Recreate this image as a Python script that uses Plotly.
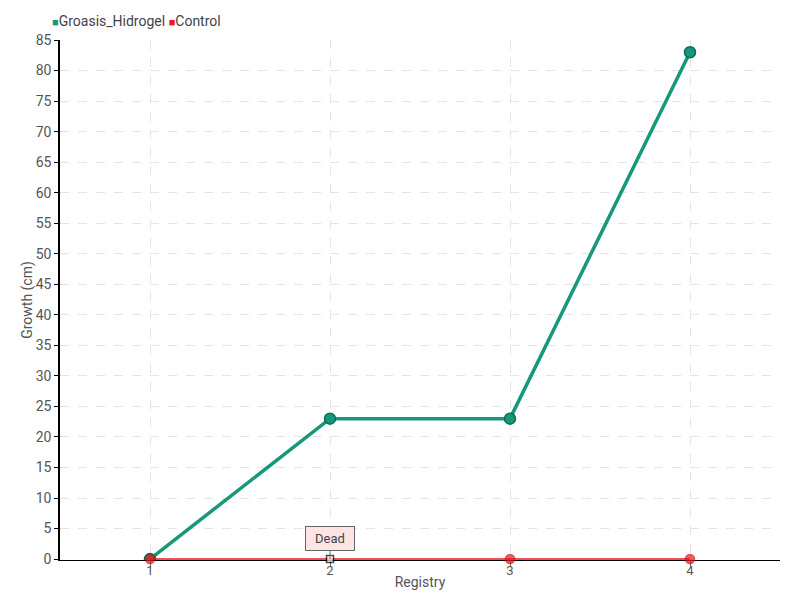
import plotly.graph_objects as go

registry = [1, 2, 3, 4]
groasis_hidrogel = [0, 23, 23, 83]
control = [0, 0, 0, 0]
control_notes = ["", "Dead", "", ""]
y_ticks = list(range(0, 90, 5))
series_names = ["Groasis_Hidrogel", "Control"]

FONT = "Roboto, Open Sans, sans-serif"
GREEN = "#17987a"
RED = "#f0141e"
TXT = "#555"

fig = go.Figure()

fig.add_trace(go.Scatter(
    x=registry, y=groasis_hidrogel, mode="lines+markers", name=series_names[0],
    line=dict(color=GREEN, width=3.5),
    marker=dict(size=11, color=GREEN, line=dict(color="#0d6b55", width=1.5)),
    showlegend=False,
))

ctrl_symbols = ["square" if n else "circle" for n in control_notes]
ctrl_colors = ["white" if n else RED for n in control_notes]
ctrl_lines = ["black" if n else "#c01018" for n in control_notes]
ctrl_sizes = [7 if n else 9 for n in control_notes]
fig.add_trace(go.Scatter(
    x=registry, y=control, mode="lines+markers", name=series_names[1],
    line=dict(color=RED, width=1.5),
    marker=dict(size=ctrl_sizes, color=ctrl_colors, symbol=ctrl_symbols,
                line=dict(color=ctrl_lines, width=1.5)),
    showlegend=False, cliponaxis=False,
))

for xv, yv, note in zip(registry, control, control_notes):
    if note:
        fig.add_annotation(x=xv, y=yv, text=note, showarrow=True, arrowhead=0,
                           arrowwidth=1, arrowcolor="#666", ax=0, ay=-21,
                           bgcolor="#fde4e4", bordercolor="#666", borderwidth=1,
                           borderpad=4, font=dict(family=FONT, size=13, color="#444"),
                           width=40)

# compact legend drawn as a paper-anchored text row
legend_text = (
    f"<span style='color:{GREEN};font-size:11px'>■</span>{series_names[0]} "
    f"<span style='color:{RED};font-size:11px'>■</span>{series_names[1]}"
)
fig.add_annotation(xref="paper", yref="paper", x=-0.0145, y=1.0365, xanchor="left",
                   yanchor="middle", showarrow=False, text=legend_text,
                   font=dict(family=FONT, size=14, color="#444"))

fig.update_layout(
    width=800, height=600,
    margin=dict(l=52, r=28, t=32, b=48, autoexpand=False),
    paper_bgcolor="white", plot_bgcolor="white",
    font=dict(family=FONT, size=14, color=TXT),
    showlegend=False,
)
fig.update_xaxes(
    range=[0.5, 4.5], tickvals=registry, ticktext=[str(r) for r in registry],
    showline=True, linecolor="black", linewidth=1, layer="below traces",
    ticks="outside", ticklen=6, tickcolor="#666",
    tickfont=dict(size=13), automargin=False, ticklabelstandoff=-8,
    showgrid=True, gridcolor="#e4e4e4", griddash="dash", gridwidth=1,
    zeroline=False,
    title=dict(text="Registry", standoff=0, font=dict(family=FONT, size=14, color=TXT)),
)
fig.update_yaxes(
    range=[-0.15, 85], tickvals=y_ticks,
    showline=True, linecolor="black", linewidth=1.5, layer="below traces",
    ticks="outside", ticklen=4, tickcolor="black",
    tickfont=dict(size=14), automargin=False,
    showgrid=True, gridcolor="#e4e4e4", griddash="dash", gridwidth=1,
    zeroline=False,
    title=dict(text="Growth (cm)", standoff=0, font=dict(family=FONT, size=14, color=TXT)),
)

fig.write_html("out.html")
